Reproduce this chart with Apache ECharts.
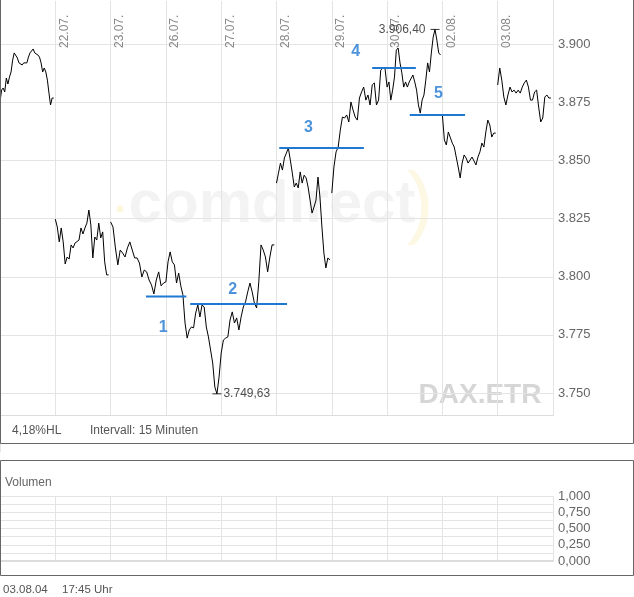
<!DOCTYPE html>
<html><head><meta charset="utf-8">
<script src="https://cdn.jsdelivr.net/npm/echarts@6/dist/echarts.min.js"></script>
<style>html,body{margin:0;padding:0;background:#fff}#c{width:634px;height:597px}</style>
</head><body><div id="c"></div>
<script>
// ---- data ----
const dayLabels = ['21.07.','22.07.','23.07.','26.07.','27.07.','28.07.','29.07.','30.07.','02.08.','03.08.'];
const d21_07 = [3875.2,3880.3,3881.2,3879.5,3885.5,3882.9,3885.9,3888.1,3893.2,3896.3,3896.7,3894.1,3892.0,3892.4,3891.1,3892.0,3892.4,3892.0,3894.5,3896.3,3897.1,3898.0,3896.3,3896.3,3895.4,3894.5,3892.0,3888.1,3889.8,3888.1,3884.6,3879.0,3873.9,3876.9,3876.9];
const d22_07 = [3824.8,3821.4,3815.0,3821.0,3815.0,3805.5,3808.5,3807.6,3813.7,3812.4,3814.5,3813.7,3815.8,3821.0,3818.4,3821.0,3823.1,3828.7,3822.3,3808.1,3817.1,3815.8,3823.1,3816.7,3819.3,3806.4,3800.8,3800.8];
const d23_07 = [3823.6,3821.4,3812.4,3805.1,3811.5,3810.2,3808.5,3812.4,3815.0,3811.5,3808.1,3808.1,3805.9,3799.9,3802.9,3802.1,3798.6,3796.5,3792.6,3798.6,3802.1,3796.1,3797.3];
const d26_07 = [3797.8,3806.4,3810.7,3806.4,3805.1,3797.3,3801.6,3796.1,3792.2,3780.1,3773.6,3777.1,3778.4,3778.0,3784.4,3787.9,3782.7,3787.9,3787.0,3778.4,3774.1,3768.5,3762.9,3752.6,3749.63,3756.9];
const d27_07 = [3767.2,3772.8,3773.6,3774.1,3781.4,3784.9,3780.1,3782.3,3777.1,3782.7,3787.0,3789.2,3793.5,3797.3,3793.5,3788.7,3786.6,3797.8,3813.7,3811.5,3808.5,3802.1,3808.5,3813.7,3813.7];
const d28_07 = [3840.3,3844.6,3848.9,3845.9,3851.1,3853.2,3855.4,3850.2,3844.6,3838.6,3840.3,3838.2,3845.1,3840.3,3843.7,3842.5,3838.6,3833.0,3827.4,3830.0,3833.0,3842.9,3834.3,3821.4,3810.2,3803.8,3808.1,3807.2];
const d29_07 = [3836.0,3847.2,3853.7,3855.8,3863.1,3868.7,3868.3,3869.6,3866.6,3875.2,3871.7,3868.7,3867.4,3876.9,3879.5,3881.6,3876.0,3878.2,3873.9,3882.5,3883.4,3873.9,3876.0,3888.9,3889.8,3889.8];
const d30_07 = [3881.6,3883.8,3876.0,3880.3,3885.9,3897.5,3898.4,3892.0,3887.7,3881.6,3883.8,3881.6,3883.8,3884.6,3886.8,3883.8,3880.3,3873.9,3870.4,3876.0,3878.2,3884.6,3892.0,3888.1,3896.3,3903.1,3906.40,3901.8,3896.3,3895.4];
const d02_08 = [3869.6,3858.8,3856.7,3862.3,3863.1,3857.5,3855.8,3851.5,3847.2,3842.5,3848.9,3852.4,3851.1,3848.9,3848.9,3851.5,3851.5,3848.1,3851.5,3853.7,3857.5,3855.8,3862.3,3867.4,3865.3,3860.1,3861.8,3861.8];
const d03_08 = [3882.5,3889.8,3884.6,3877.3,3873.9,3878.2,3881.6,3879.5,3880.3,3879.0,3880.3,3879.0,3881.6,3883.4,3884.6,3881.6,3876.0,3876.0,3879.5,3880.3,3873.0,3866.6,3868.3,3877.3,3878.2,3876.9,3876.9];
const breakBefore = [false,true,true,false,false,true,true,false,true,true];

const annotStart  = [2.64, 3.44, 5.05, 6.73, 7.41];
const annotEnd    = [3.37, 5.19, 6.58, 7.52, 8.41];
const annotLevel  = [3791.5, 3788.3, 3855.4, 3889.8, 3869.6];
const annotLabels = ['1','2','3','4','5'];
const annotLabelX = [2.95, 4.21, 5.58, 6.43, 7.93];
const annotLabelY = [3778.0, 3794.3, 3864.0, 3896.7, 3878.6];

const priceTicks = [3750, 3775, 3800, 3825, 3850, 3875, 3900];
const volumeTicks = [0, 0.25, 0.5, 0.75, 1];

// ---- build ----
const days = [d21_07,d22_07,d23_07,d26_07,d27_07,d28_07,d29_07,d30_07,d02_08,d03_08];
const priceData = [];
let minP = null, maxP = null;
days.forEach((vals, d) => {
  if (d > 0 && breakBefore[d]) priceData.push([d, null]);
  vals.forEach((v, i) => {
    const p = [d + i / vals.length, v];
    priceData.push(p);
    if (!minP || v < minP[1]) minP = p;
    if (!maxP || v > maxP[1]) maxP = p;
  });
});
function thou(v){ const s = String(Math.floor(v)); return s.length>3 ? s.slice(0,s.length-3)+'.'+s.slice(-3) : s; }
function de2(v){ const f = Math.round((v - Math.floor(v))*100); return thou(v) + ',' + String(f).padStart(2,'0'); }

const FONT = '"Liberation Sans", Arial, sans-serif';
const GRID_COLOR = '#e4e4e4';
const BLUE = '#1f78d2';

const series = [{
  type:'line', xAxisIndex:0, yAxisIndex:0, data: priceData, showSymbol:false, connectNulls:false,
  lineStyle:{color:'#000', width:1}, z:3, silent:true
}];
annotStart.forEach((s, k) => {
  series.push({type:'line', xAxisIndex:0, yAxisIndex:0, data:[[s, annotLevel[k]],[annotEnd[k], annotLevel[k]]],
    showSymbol:false, lineStyle:{color:BLUE, width:2}, z:4, silent:true});
});
series.push({type:'scatter', xAxisIndex:0, yAxisIndex:0, symbolSize:0, z:5, silent:true,
  data: annotLabels.map((t,k)=>({name:t, value:[annotLabelX[k], annotLabelY[k]]})),
  label:{show:true, position:'inside', formatter:'{b}', color:BLUE, fontSize:16, fontWeight:'bold', fontFamily:FONT}});
series.push({type:'scatter', xAxisIndex:0, yAxisIndex:0, symbol:'rect', symbolSize:[9,1], z:5, silent:true,
  itemStyle:{color:'#000'},
  data:[
    {value:minP, label:{show:true, position:'right', distance:2, formatter:de2(minP[1])}},
    {value:maxP, label:{show:true, position:'left', distance:5, formatter:de2(maxP[1])}}
  ],
  label:{color:'#222', fontSize:12, fontFamily:FONT}});

const option = {
  animation:false,
  textStyle:{fontFamily:FONT},
  grid:[
    {left:0, right:81, top:0, bottom:145.9},
    {left:9, right:72, top:50, height:1},
    {left:0, right:81, top:496, bottom:36}
  ],
  xAxis:[
    {gridIndex:0, type:'value', min:0, max:10, interval:1, axisLine:{show:false}, axisTick:{show:false}, axisLabel:{show:false},
      splitLine:{show:true, lineStyle:{color:GRID_COLOR}}},
    {gridIndex:1, type:'value', position:'top', min:0, max:10, interval:1, axisLine:{show:false}, axisTick:{show:false}, splitLine:{show:false},
      axisLabel:{rotate:90, margin:2, color:'#888', fontSize:12, fontFamily:FONT,
        formatter:(v)=> (v>=1 && v<=9) ? dayLabels[Math.round(v)] : ''}},
    {gridIndex:2, type:'value', min:0, max:10, interval:1, axisLine:{show:true, lineStyle:{color:'#dcdcdc', width:2}}, axisTick:{show:false}, axisLabel:{show:false},
      splitLine:{show:true, lineStyle:{color:GRID_COLOR}}}
  ],
  yAxis:[
    {gridIndex:0, type:'value', position:'right', min:3725, max:3919.06, interval:25, axisLine:{show:false}, axisTick:{show:false},
      splitLine:{show:true, lineStyle:{color:GRID_COLOR}},
      axisLabel:{margin:5, color:'#666', fontSize:13, fontFamily:FONT, showMaxLabel:false,
        formatter:(v)=> priceTicks.indexOf(v) >= 0 ? thou(v) : ''}},
    {gridIndex:1, type:'value', show:false},
    {gridIndex:2, type:'value', position:'right', min:0, max:1, interval:0.125, axisLine:{show:false}, axisTick:{show:false},
      splitLine:{show:true, lineStyle:{color:GRID_COLOR}},
      axisLabel:{margin:5, color:'#666', fontSize:13, fontFamily:FONT, padding:[0,0,3,0],
        formatter:(v)=> volumeTicks.some(t=>Math.abs(t-v)<1e-9) ? v.toFixed(3).replace('.',',') : ''}}
  ],
  graphic:[
    {type:'text', z:-1, silent:true, style:{text:'comdirect', x:272, y:205, align:'center', verticalAlign:'middle', fill:'#f3f3f3', font:'bold 60px '+FONT}},
    {type:'text', z:-1, silent:true, style:{text:')', x:420, y:206, align:'center', verticalAlign:'middle', fill:'#fdf8e4', font:'80px '+FONT}},
    {type:'circle', z:-1, silent:true, shape:{cx:120, cy:209, r:3.5}, style:{fill:'#fcf6dc'}},
    {type:'text', z:-1, silent:true, style:{text:'DAX.ETR', x:480, y:395, align:'center', verticalAlign:'middle', fill:'#d6d6d6', font:'bold 28px '+FONT}},
    {type:'rect', z:50, silent:true, shape:{x:1, y:0, width:552, height:1}, style:{fill:'#fff'}},
    {type:'rect', z:50, silent:true, shape:{x:1, y:416, width:632, height:43.5}, style:{fill:'#fff'}},
    {type:'line', z:51, silent:true, shape:{x1:0, y1:415.5, x2:553.5, y2:415.5}, style:{stroke:'#dcdcdc', lineWidth:1}},
    {type:'rect', z:52, silent:true, shape:{x:0.5, y:-3, width:633, height:446.5}, style:{fill:'none', stroke:'#666', lineWidth:1}},
    {type:'rect', z:52, silent:true, shape:{x:0.5, y:460.5, width:633, height:115}, style:{fill:'none', stroke:'#666', lineWidth:1}},
    {type:'text', z:53, silent:true, style:{text:'4,18%HL', x:12, y:431, verticalAlign:'middle', fill:'#555', font:'12px '+FONT}},
    {type:'text', z:53, silent:true, style:{text:'Intervall: 15 Minuten', x:90, y:431, verticalAlign:'middle', fill:'#555', font:'12px '+FONT}},
    {type:'text', z:53, silent:true, style:{text:'Volumen', x:5, y:483, verticalAlign:'middle', fill:'#666', font:'12px '+FONT}},
    {type:'text', z:53, silent:true, style:{text:'03.08.04', x:3, y:590, verticalAlign:'middle', fill:'#555', font:'11.5px '+FONT}},
    {type:'text', z:53, silent:true, style:{text:'17:45 Uhr', x:62, y:590, verticalAlign:'middle', fill:'#555', font:'11.5px '+FONT}}
  ],
  series: series
};
const chart = echarts.init(document.getElementById('c'), null, {renderer:'canvas'});
chart.setOption(option);
</script>
</body></html>
